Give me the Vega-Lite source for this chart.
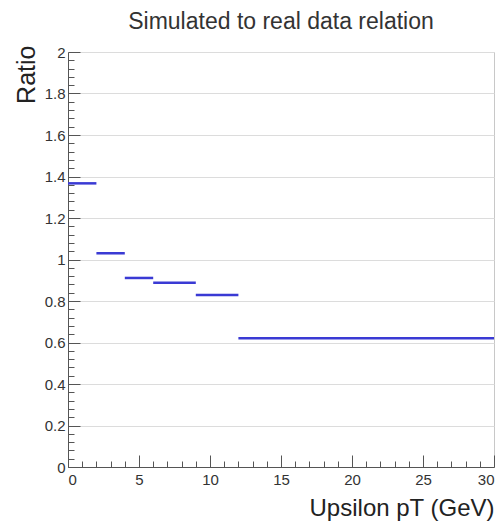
{
  "$schema": "https://vega.github.io/schema/vega-lite/v6.json",
  "width": 426,
  "height": 415,
  "autosize": {"type": "none"},
  "padding": {"left": 68, "top": 52, "right": 10, "bottom": 60},
  "background": "white",
  "config": {"view": {"stroke": "#c8c8c8", "strokeWidth": 1}, "font": "Liberation Sans"},
  "title": {"text": "Simulated to real data relation", "fontSize": 23, "fontWeight": "normal", "color": "#333", "anchor": "middle", "frame": "group", "baseline": "alphabetic", "offset": 0, "dy": 7},
  "data": {"values": [
    {"lo": 0, "hi": 2, "ratio": 1.367},
    {"lo": 2, "hi": 4, "ratio": 1.03},
    {"lo": 4, "hi": 6, "ratio": 0.911},
    {"lo": 6, "hi": 9, "ratio": 0.888},
    {"lo": 9, "hi": 12, "ratio": 0.829},
    {"lo": 12, "hi": 30, "ratio": 0.62}
  ]},
  "layer": [
    {
      "mark": {"type": "rule", "color": "#3a3ad4", "strokeWidth": 2.5},
      "encoding": {
        "x": {"field": "lo", "type": "quantitative", "scale": {"domain": [0, 30], "nice": false},
          "axis": {"orient": "bottom", "values": [0, 5, 10, 15, 20, 25, 30], "tickSize": -12, "tickColor": "#555", "domainColor": "#555", "grid": false,
            "labelFontSize": 15, "labelColor": "#333", "labelPadding": 17, "format": "~g",
            "title": "Upsilon pT (GeV)", "titleFontSize": 24, "titleFontWeight": "normal", "titleColor": "#222",
            "titleAnchor": "end", "titleAlign": "right", "titleBaseline": "alphabetic", "titleX": 426, "titleY": 48}},
        "x2": {"field": "hi"},
        "y": {"field": "ratio", "type": "quantitative", "scale": {"domain": [0, 2], "nice": false},
          "axis": {"orient": "left", "values": [0, 0.2, 0.4, 0.6, 0.8, 1, 1.2, 1.4, 1.6, 1.8, 2], "tickSize": -12, "tickColor": "#555", "domainColor": "#555",
            "grid": true, "gridColor": "#dcdcdc", "labelFontSize": 15, "labelColor": "#333", "labelPadding": 15, "format": "~g",
            "title": "Ratio", "titleFontSize": 25, "titleFontWeight": "normal", "titleColor": "#222",
            "titleAngle": -90, "titleAlign": "right", "titleBaseline": "alphabetic", "titleX": -34, "titleY": -7}}
      }
    },
    {
      "mark": {"type": "rule", "opacity": 0},
      "encoding": {
        "x": {"field": "lo", "type": "quantitative", "scale": {"domain": [0, 30], "nice": false},
          "axis": {"orient": "bottom", "values": [1, 2, 3, 4, 6, 7, 8, 9, 11, 12, 13, 14, 16, 17, 18, 19, 21, 22, 23, 24, 26, 27, 28, 29], "tickSize": -6, "tickColor": "#555", "domain": false, "grid": false, "labels": false, "title": null}},
        "x2": {"field": "hi"},
        "y": {"field": "ratio", "type": "quantitative", "scale": {"domain": [0, 2], "nice": false},
          "axis": {"orient": "left", "values": [0.04, 0.08, 0.12, 0.16, 0.24, 0.28, 0.32, 0.36, 0.44, 0.48, 0.52, 0.56, 0.64, 0.68, 0.72, 0.76, 0.84, 0.88, 0.92, 0.96, 1.04, 1.08, 1.12, 1.16, 1.24, 1.28, 1.32, 1.36, 1.44, 1.48, 1.52, 1.56, 1.64, 1.68, 1.72, 1.76, 1.84, 1.88, 1.92, 1.96], "tickSize": -6, "tickColor": "#555", "domain": false, "grid": false, "labels": false, "title": null}}
      }
    }
  ],
  "resolve": {"axis": {"x": "independent", "y": "independent"}}
}
